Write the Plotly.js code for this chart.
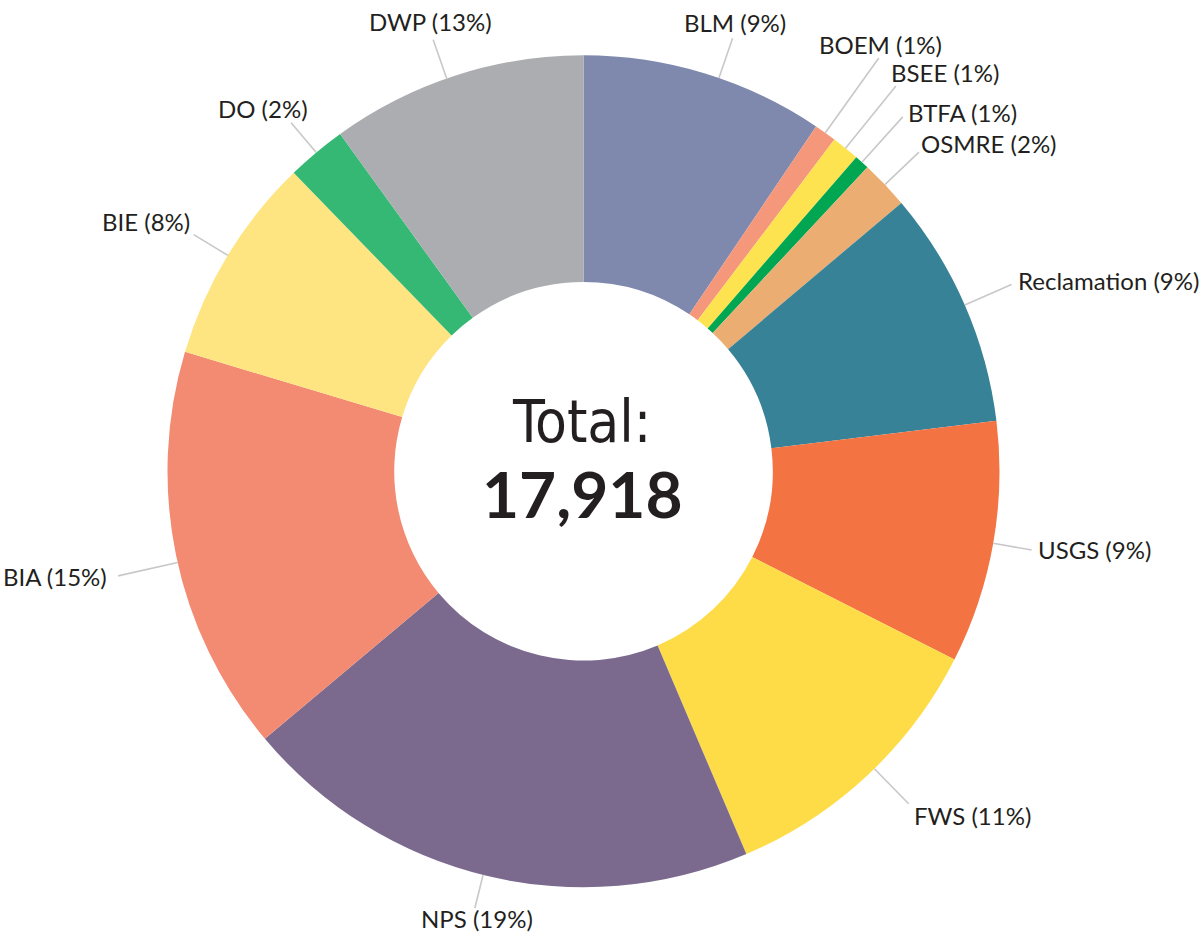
<!DOCTYPE html>
<html>
<head>
<meta charset="utf-8">
<script src="https://cdn.plot.ly/plotly-3.0.1.min.js"></script>
<style>
  html, body { margin: 0; padding: 0; background: #ffffff; }
  #chart { width: 1204px; height: 934px; }
</style>
</head>
<body>
<div id="chart"></div>
<script>
// ---- Data ----
const labels = ['BLM', 'BOEM', 'BSEE', 'BTFA', 'OSMRE', 'Reclamation', 'USGS', 'FWS', 'NPS', 'BIA', 'BIE', 'DO', 'DWP'];
const values = [1692, 154, 194, 102, 338, 1652, 1687, 1993, 3635, 2822, 1451, 416, 1782];
const pctText = ['9%', '1%', '1%', '1%', '2%', '9%', '9%', '11%', '19%', '15%', '8%', '2%', '13%'];
const totalLabel = 'Total:';
const totalValue = '17,918';

// ---- Styles ----
const colors = ['#7f89ae', '#f5977a', '#fee350', '#00a651', '#ebad71', '#378296', '#f37342',
                '#fedc47', '#7b6a8e', '#f38a72', '#fee581', '#34b874', '#acadb0'];
const textColor = '#231f20';
const lineColor = '#c8c8c8';
const labelFont = 'Lato, "Open Sans", sans-serif';

// ---- Geometry of the page ----
const W = 1204, H = 934;
const CX = 583.5, CY = 471.3, R = 416;
const HOLE = 0.455;

// leader line / label placement (layout only)
const leader = [
  {a: 2,    len: 42, xa: 'center', dx: 2,   dy: -16},
  {a: 0,    len: 92, xa: 'center', dx: 2,   dy: -13},
  {a: 0,    len: 80, xa: 'left',   dx: -7,  dy: -14},
  {a: 0,    len: 61, xa: 'left',   dx: 3,   dy: -4},
  {a: 0,    len: 47, xa: 'left',   dx: 0,   dy: -9},
  {a: 0,    len: 51, xa: 'left',   dx: 4,   dy: -4},
  {a: 0,    len: 39, xa: 'left',   dx: 4,   dy: -1},
  {a: -1.3, len: 49, xa: 'left',   dx: 3,   dy: 12},
  {a: 0.5,  len: 34, xa: 'center', dx: 2,   dy: 11},
  {a: -1,   len: 61, xa: 'right',  dx: -9,  dy: 1},
  {a: 0,    len: 40, xa: 'right',  dx: -2,  dy: -13},
  {a: 0,    len: 39, xa: 'center', dx: -28, dy: -14},
  {a: -1.3, len: 41, xa: 'center', dx: -3,  dy: -18}
];

const px2x = p => p / W;
const px2y = p => 1 - p / H;

const total = values.reduce((s, v) => s + v, 0);
const shapes = [];
const annotations = [];
let cum = 0;
values.forEach((v, i) => {
  const mid = (cum + v / 2) / total * 360 + leader[i].a;
  cum += v;
  const t = mid * Math.PI / 180;
  const sx = CX + R * Math.sin(t), sy = CY - R * Math.cos(t);
  const r2 = R + leader[i].len;
  const ex = CX + r2 * Math.sin(t), ey = CY - r2 * Math.cos(t);
  shapes.push({
    type: 'line', xref: 'paper', yref: 'paper', layer: 'above',
    x0: px2x(sx), y0: px2y(sy), x1: px2x(ex), y1: px2y(ey),
    line: {color: lineColor, width: 1.6}
  });
  annotations.push({
    xref: 'paper', yref: 'paper', showarrow: false,
    x: px2x(ex + leader[i].dx), y: px2y(ey + leader[i].dy),
    xanchor: leader[i].xa, yanchor: 'middle',
    text: labels[i] + ' (' + pctText[i] + ')',
    font: {family: labelFont, size: 24, color: textColor}
  });
});

annotations.push({
  xref: 'paper', yref: 'paper', showarrow: false,
  x: px2x(581.5), y: px2y(422), xanchor: 'center', yanchor: 'middle',
  text: totalLabel,
  font: {family: '"Liberation Sans Narrow", "Arial Narrow", "DejaVu Sans Condensed", sans-serif', size: 58, color: textColor}
});
annotations.push({
  xref: 'paper', yref: 'paper', showarrow: false,
  x: px2x(582.5), y: px2y(493), xanchor: 'center', yanchor: 'middle',
  text: '<b>' + totalValue + '</b>',
  font: {family: 'Lato, "Open Sans", sans-serif', size: 64, color: textColor, weight: 700}
});

const trace = {
  type: 'pie',
  labels: labels,
  values: values,
  sort: false,
  direction: 'clockwise',
  rotation: 0,
  hole: HOLE,
  textinfo: 'none',
  hoverinfo: 'label+percent',
  marker: {colors: colors, line: {width: 0}},
  domain: {x: [(CX - R) / W, (CX + R) / W], y: [1 - (CY + R) / H, 1 - (CY - R) / H]},
  showlegend: false
};

const layout = {
  width: W, height: H,
  margin: {l: 0, r: 0, t: 0, b: 0},
  paper_bgcolor: '#ffffff',
  plot_bgcolor: '#ffffff',
  showlegend: false,
  shapes: shapes,
  annotations: annotations
};

Plotly.newPlot('chart', [trace], layout, {displayModeBar: false, staticPlot: true});
</script>
</body>
</html>
